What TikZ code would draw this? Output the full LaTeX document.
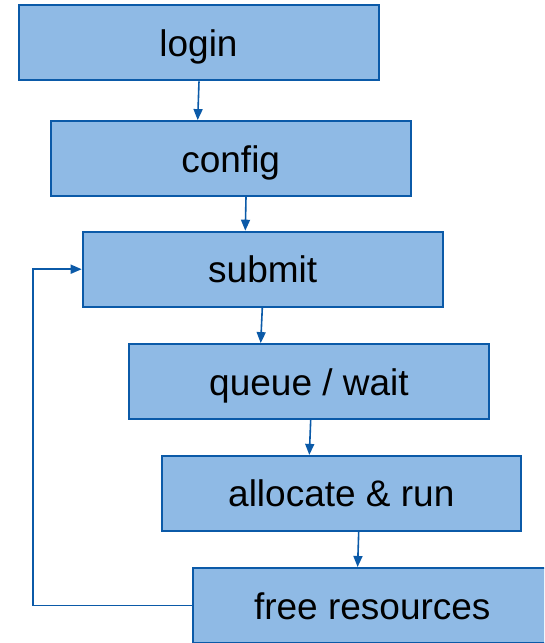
\documentclass[tikz,border=0pt]{standalone}
\usepackage{fontspec}
\setmainfont{Liberation Sans}
\usetikzlibrary{arrows.meta,calc}
\definecolor{boxfill}{HTML}{8FBAE5}
\definecolor{boxline}{HTML}{0B5AA8}
\tikzset{
  stepbox/.style={draw=boxline, fill=boxfill, line width=2pt, rectangle,
    minimum width=360pt, minimum height=75pt, inner sep=0pt,
    text height=27pt, text depth=0pt,
    font=\fontsize{37}{44}\selectfont, text=black},
  flow/.style={draw=boxline, line width=1.6pt,
    -{Triangle[width=9pt,length=11pt]}}
}
\begin{document}
\begin{tikzpicture}[x=1pt,y=-1pt]
\useasboundingbox (0,0) rectangle (544,643);
\clip (0,0) rectangle (544,643);
\node[stepbox] (login) at (198.5,42.8) {login};
\node[stepbox] (config) at (230.7,158.6) {config};
\node[stepbox] (submit) at (262.7,269.2) {submit};
\node[stepbox] (queue) at (309,381.6) {queue / wait};
\node[stepbox, minimum width=358.7pt] (alloc) at (341.3,493.4) {allocate \& run};
\node[stepbox, minimum width=358pt] (free) at (372.3,605.5) {free resources};
\coordinate (loopx) at (33,0);
\draw[flow] ($(login.south)+(0.5,0)$) -- ($(config.north)+(-33,0)$);
\draw[flow] ($(config.south)+(15.3,0)$) -- ($(submit.north)+(-17.4,0)$);
\draw[flow] ($(submit.south)+(-0.4,0)$) -- ($(queue.north)+(-48.3,0)$);
\draw[flow] ($(queue.south)+(1.7,0)$) -- ($(alloc.north)+(-32,0)$);
\draw[flow] ($(alloc.south)+(17.4,0)$) -- ($(free.north)+(-14.7,0)$);
\draw[flow] (free.west) -- (free.west -| loopx) -- (submit.west -| loopx) -- (submit.west);
\end{tikzpicture}
\end{document}
